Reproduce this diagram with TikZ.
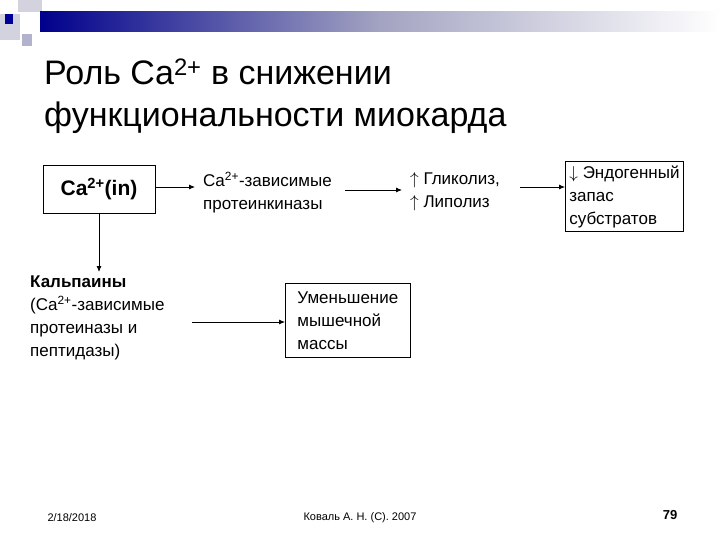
\documentclass[tikz,border=0pt]{standalone}
\usepackage{fontspec}
\setmainfont{Liberation Sans}
\usetikzlibrary{arrows.meta}
\begin{document}
\begin{tikzpicture}[x=1pt,y=-1pt,
  txt/.style={anchor=north west,align=left,font=\fontsize{17}{23}\selectfont,inner sep=0pt},
  bx/.style={draw,thick,anchor=north west,align=left,font=\fontsize{17}{23}\selectfont,inner sep=4pt},
  arr/.style={-{Latex[length=6pt,width=5pt]},thick},
  foot/.style={font=\fontsize{11}{12}\selectfont}]
\useasboundingbox (0,0) rectangle (720,540);
\fill[white] (0,0) rectangle (720,540);
% header decorations
\fill[blue!15!gray!30] (18,0) rectangle (42,12);
\fill[blue!15!gray!30] (0,14) rectangle (20,40);
\fill[blue!20!gray!50] (22,34) rectangle (32,46);
\shade[left color=blue!55!black, right color=white, middle color=blue!20!gray!60] (40,12) rectangle (720,32);
\fill[blue!60!black] (5,14) rectangle (13,24);
% title
\node[anchor=west,inner sep=0pt,font=\fontsize{34}{40}\selectfont] (t1) at (44,72) {Роль Ca\textsuperscript{2+} в снижении};
\node[anchor=west,inner sep=0pt,font=\fontsize{34}{40}\selectfont] (t2) at (44,118) {функциональности миокарда};
% nodes
\node[draw,thick,minimum width=112pt,minimum height=48pt,font=\fontsize{21}{24}\selectfont\bfseries] (ca) at (99,189) {Ca\textsuperscript{2+}(in)};
\node[txt] (pk) at (203,172) {Ca\textsuperscript{2+}-зависимые\\протеинкиназы};
\node[txt] (gl) at (410,172) {$\uparrow$ Гликолиз,\\$\uparrow$ Липолиз};
\node[bx] (en) at (565,161) {$\downarrow$ Эндогенный\\запас\\субстратов};
\node[txt] (kp) at (30,276) {\textbf{Кальпаины}\\(Ca\textsuperscript{2+}-зависимые\\протеиназы и\\пептидазы)};
\node[bx,minimum width=125pt,minimum height=74pt] (um) at (285,283) {Уменьшение\\мышечной\\массы};
% arrows
\coordinate (a1) at (195,187);
\draw[arr] (ca.east |- a1) -- (a1);
\coordinate (b0) at (345,190); \coordinate (b1) at (402,190);
\draw[arr] (b0) -- (b1);
\coordinate (c0) at (520,187); \coordinate (c1) at (en.west |- c0);
\draw[arr] (c0) -- (c1);
\coordinate (d1) at (99,272);
\draw[arr] (ca.south) -- (d1);
\coordinate (e0) at (192,322);
\draw[arr] (e0) -- (um.west |- e0);
% footer
\node[foot,anchor=west] (f1) at (44,518) {2/18/2018};
\node[foot] (f2) at (360,518) {Коваль А. Н. (С). 2007};
\node[font=\fontsize{13}{14}\selectfont\bfseries] (f3) at (670,515) {79};
\end{tikzpicture}
\end{document}
